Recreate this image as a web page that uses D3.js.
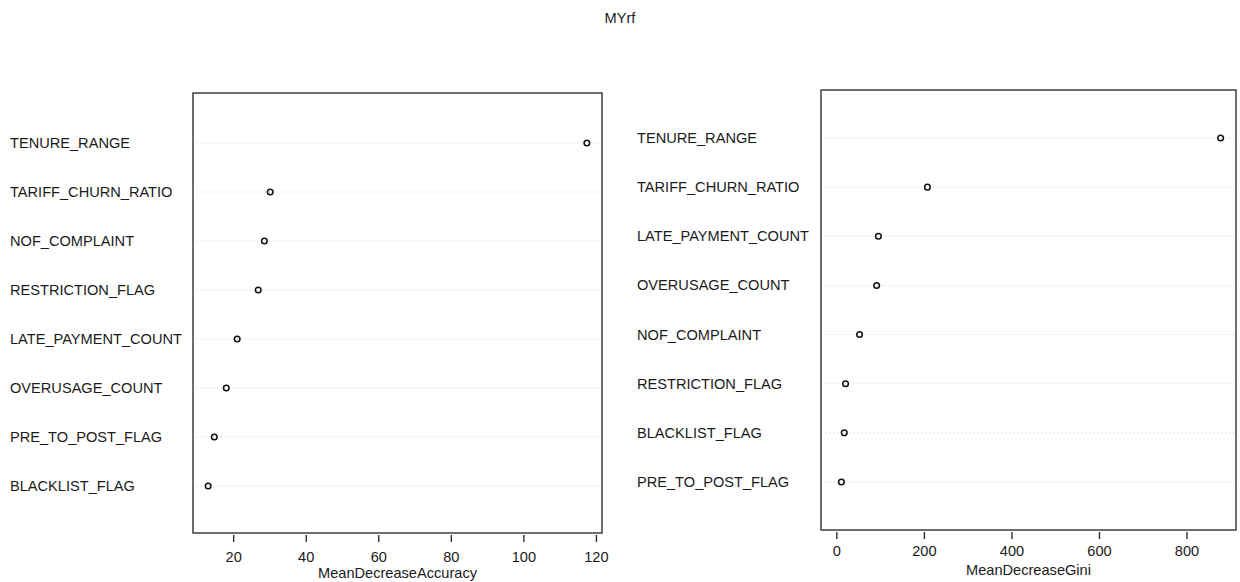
<!DOCTYPE html>
<html>
<head>
<meta charset="utf-8">
<script src="https://cdn.jsdelivr.net/npm/d3@7/dist/d3.min.js"></script>
<style>
  body { margin: 0; background: #fff; }
  text { font-family: "Liberation Sans", Arial, sans-serif; fill: #1a1a1a; }
</style>
</head>
<body>
<div id="chart-area"></div>
<script>
// MeanDecreaseAccuracy panel (top to bottom)
var accNames = ['TENURE_RANGE', 'TARIFF_CHURN_RATIO', 'NOF_COMPLAINT', 'RESTRICTION_FLAG',
  'LATE_PAYMENT_COUNT', 'OVERUSAGE_COUNT', 'PRE_TO_POST_FLAG', 'BLACKLIST_FLAG'];
var accValues = [117.5, 30.2, 28.6, 26.9, 21.1, 18.1, 14.8, 13.1];
var accTicks = [20, 40, 60, 80, 100, 120];

// MeanDecreaseGini panel (top to bottom)
var giniNames = ['TENURE_RANGE', 'TARIFF_CHURN_RATIO', 'LATE_PAYMENT_COUNT', 'OVERUSAGE_COUNT',
  'NOF_COMPLAINT', 'RESTRICTION_FLAG', 'BLACKLIST_FLAG', 'PRE_TO_POST_FLAG'];
var giniValues = [878, 208, 96, 92, 53, 21, 18, 11.5];
var giniTicks = [0, 200, 400, 600, 800];

var W = 1240, H = 582;
var fontSize = '14.6px';

var svg = d3.select('#chart-area')
  .append('svg')
    .attr('width', W)
    .attr('height', H);

// main title
svg.append('text')
  .attr('x', 620)
  .attr('y', 23)
  .attr('text-anchor', 'middle')
  .attr('font-size', fontSize)
  .text('MYrf');

function panel(opts) {
  var names = opts.names, values = opts.values;

  // R dotchart: xlim extended by 4% on each side
  var lo = opts.xmin, hi = d3.max(values);
  var pad = (hi - lo) * 0.04;
  var x = d3.scaleLinear()
    .domain([lo - pad, hi + pad])
    .range([opts.left, opts.right]);

  var n = names.length;
  var y = d3.scaleLinear()
    .domain([0, n - 1])
    .range([opts.firstRow, opts.lastRow]);

  var g = svg.append('g');

  // dotted guide lines
  g.selectAll('line.guide')
    .data(values)
    .enter()
    .append('line')
      .attr('class', 'guide')
      .attr('x1', opts.left)
      .attr('x2', opts.right)
      .attr('y1', function(d, i) { return y(i); })
      .attr('y2', function(d, i) { return y(i); })
      .attr('stroke', '#cccccc')
      .attr('stroke-width', 1)
      .attr('stroke-dasharray', '1,3');

  // variable labels
  g.selectAll('text.name')
    .data(names)
    .enter()
    .append('text')
      .attr('class', 'name')
      .attr('x', opts.labelX)
      .attr('y', function(d, i) { return y(i) + 5; })
      .attr('font-size', fontSize)
      .text(function(d) { return d; });

  // points
  g.selectAll('circle')
    .data(values)
    .enter()
    .append('circle')
      .attr('cx', function(d) { return x(d); })
      .attr('cy', function(d, i) { return y(i); })
      .attr('r', 2.8)
      .attr('fill', 'none')
      .attr('stroke', '#111')
      .attr('stroke-width', 1.5);

  // box
  g.append('rect')
    .attr('x', opts.left)
    .attr('y', opts.top)
    .attr('width', opts.right - opts.left)
    .attr('height', opts.bottom - opts.top)
    .attr('fill', 'none')
    .attr('stroke', '#222')
    .attr('stroke-width', 1.3);

  // x axis
  var axis = d3.axisBottom(x)
    .tickValues(opts.ticks)
    .tickSize(7)
    .tickPadding(opts.tickPad)
    .tickFormat(d3.format('d'));

  var ax = g.append('g')
    .attr('transform', 'translate(0,' + (opts.bottom + 2) + ')')
    .call(axis);
  ax.select('.domain').remove();
  ax.selectAll('line').attr('stroke', '#222').attr('stroke-width', 1.3);
  ax.selectAll('text')
    .attr('font-size', fontSize)
    .attr('fill', '#1a1a1a')
    .style('font-family', '"Liberation Sans", Arial, sans-serif');

  g.append('text')
    .attr('x', (opts.left + opts.right) / 2)
    .attr('y', opts.bottom + opts.labelOff)
    .attr('text-anchor', 'middle')
    .attr('font-size', fontSize)
    .text(opts.xlab);
}

panel({
  names: accNames, values: accValues, ticks: accTicks,
  xmin: d3.min(accValues),
  left: 193, right: 602, top: 93, bottom: 533,
  firstRow: 143, lastRow: 486, labelX: 10,
  tickPad: 10, labelOff: 45,
  xlab: 'MeanDecreaseAccuracy'
});

panel({
  names: giniNames, values: giniValues, ticks: giniTicks,
  xmin: 0,
  left: 821, right: 1236, top: 90, bottom: 530,
  firstRow: 138, lastRow: 482, labelX: 637,
  tickPad: 7, labelOff: 45,
  xlab: 'MeanDecreaseGini'
});
</script>
</body>
</html>
